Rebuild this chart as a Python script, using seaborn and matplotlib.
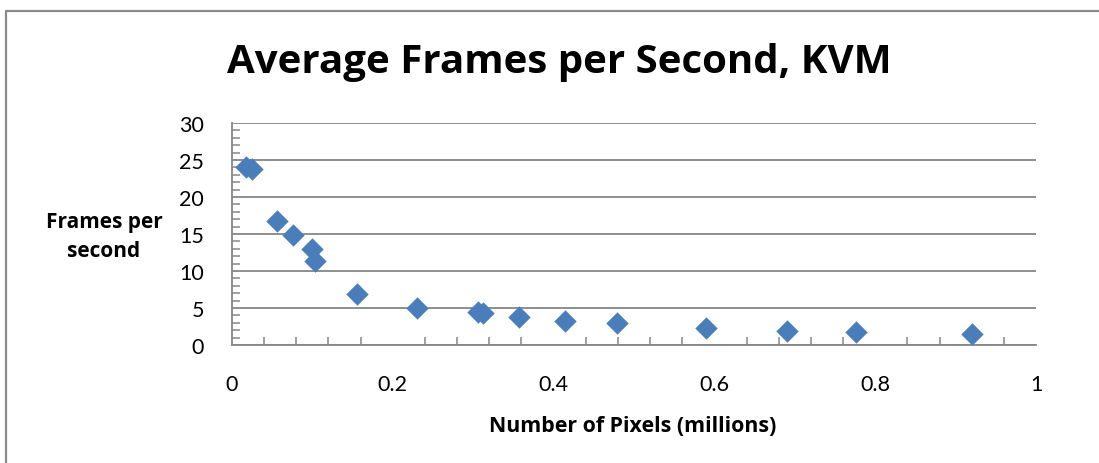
import matplotlib
matplotlib.use("Agg")
import matplotlib.pyplot as plt
from matplotlib.lines import Line2D
from matplotlib.ticker import MultipleLocator, FuncFormatter
import seaborn as sns
import pandas as pd

# Average frame rate measured under KVM at various screen resolutions
pixels_millions = [0.0174, 0.0245, 0.0556, 0.0755, 0.1000, 0.1030, 0.1560,
                   0.2297, 0.3064, 0.3126, 0.3570, 0.4140, 0.4790, 0.5896,
                   0.6907, 0.7760, 0.9210]
frames_per_second = [24.0, 23.8, 16.8, 14.8, 13.0, 11.4, 6.9,
                     4.96, 4.5, 4.3, 3.74, 3.2, 2.93, 2.3,
                     1.93, 1.80, 1.49]

title = "Average Frames per Second, KVM"
x_label = "Number of Pixels (millions)"
y_label = "Frames per\nsecond"
x_ticks = [0, 0.2, 0.4, 0.6, 0.8, 1.0]
y_ticks = [0, 5, 10, 15, 20, 25, 30]

df = pd.DataFrame({"pixels": pixels_millions, "fps": frames_per_second})

sns.set_theme(style="white")
plt.rcParams["font.family"] = ["Lato", "DejaVu Sans"]

W, H = 1099, 464
fig = plt.figure(figsize=(W / 100, H / 100), dpi=100)
ax = fig.add_axes([232 / W, (H - 346) / H, 804 / W, 222 / H])

grey = "#868686"
blue = "#4A7EBB"

sns.scatterplot(data=df, x="pixels", y="fps", ax=ax, marker="D", s=130,
                color=blue, edgecolor=blue, linewidth=0, zorder=3,
                legend=False)

ax.set_xlim(0, 1)
ax.set_ylim(0, 30)
ax.set_xticks(x_ticks)
ax.set_yticks(y_ticks)
ax.xaxis.set_minor_locator(MultipleLocator(0.04))
ax.yaxis.set_minor_locator(MultipleLocator(1))
ax.xaxis.set_major_formatter(FuncFormatter(lambda v, p: f"{v:g}"))
ax.yaxis.set_major_formatter(FuncFormatter(lambda v, p: f"{v:g}"))

ax.grid(axis="y", which="major", color=grey, linewidth=1.3)
ax.set_axisbelow(True)
for side in ("top", "right"):
    ax.spines[side].set_visible(False)
for side in ("left", "bottom"):
    ax.spines[side].set_color(grey)
    ax.spines[side].set_linewidth(1.3)

ax.tick_params(which="major", direction="inout", length=14, width=1.3,
               color=grey, labelsize=15.5, labelcolor="black")
ax.tick_params(axis="x", which="major", pad=14)
ax.tick_params(axis="y", which="major", pad=13)
ax.tick_params(which="minor", direction="in", length=6, width=1.1,
               color=grey, bottom=True, left=True)

ax.set_xlabel("")
ax.set_ylabel("")

label_font = ["Open Sans", "DejaVu Sans"]
fig.text(559 / W, 1 - 62 / H, title, ha="center", va="center",
         fontsize=29, fontweight="bold", color="black", family=label_font)
fig.text(633 / W, 1 - 427 / H, x_label, ha="center", va="center",
         fontsize=15.4, fontweight="bold", color="black", family=label_font)
fig.text(104 / W, 1 - 237 / H, y_label, ha="center", va="center",
         fontsize=15, fontweight="bold", color="black", linespacing=1.5,
         family=label_font)

# chart-area frame (top and left edges)
frame_kw = dict(color="#8a8a8a", linewidth=1.6, transform=fig.transFigure)
fig.add_artist(Line2D([6 / W, 1.0], [1 - 12 / H, 1 - 12 / H], **frame_kw))
fig.add_artist(Line2D([6 / W, 6 / W], [1 - 12 / H, 0.0], **frame_kw))

fig.savefig("out.png", dpi=100, facecolor="white")
